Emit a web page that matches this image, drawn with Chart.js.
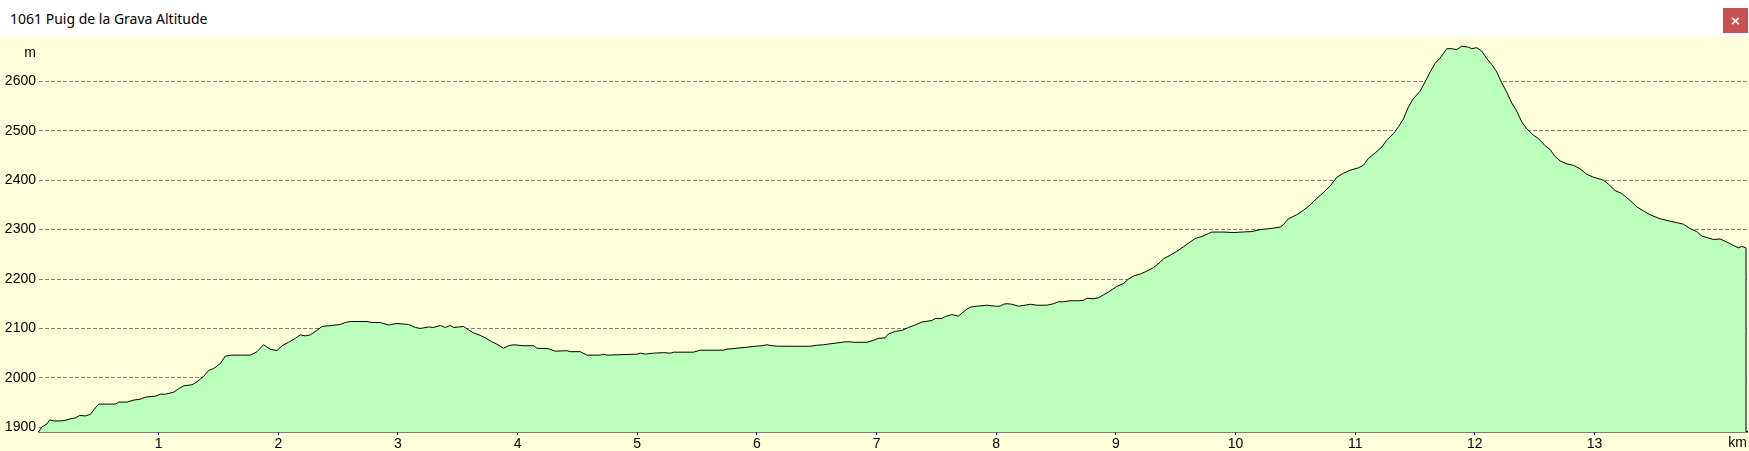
<!DOCTYPE html>
<html>
<head>
<meta charset="utf-8">
<title>1061 Puig de la Grava Altitude</title>
<script src="https://cdn.jsdelivr.net/npm/chart.js@4/dist/chart.umd.min.js"></script>
<style>
  html, body {
    margin: 0;
    padding: 0;
    width: 1749px;
    height: 451px;
    overflow: hidden;
    background: #ffffdc;
  }
  .titlebar {
    position: relative;
    height: 37px;
    background: #ffffff;
  }
  .titlebar .title {
    position: absolute;
    left: 10px;
    top: 9px;
    font: 14px "Noto Sans", "Open Sans", sans-serif;
    color: #000;
  }
  .titlebar .close {
    position: absolute;
    left: 1723px;
    top: 8px;
    width: 25px;
    height: 25px;
    background: #c75050;
    color: #fff;
    font: bold 13px "DejaVu Sans", sans-serif;
    line-height: 25px;
    text-align: center;
  }
  .plot {
    width: 1749px;
    height: 414px;
  }
</style>
</head>
<body>
<div class="titlebar">
  <span class="title">1061 Puig de la Grava Altitude</span>
  <div class="close">×</div>
</div>
<div class="plot"><canvas id="altChart" width="1749" height="414"></canvas></div>

<script>
// Profile data (distance in km, altitude in m)
const distances = [
  0.000, 0.025, 0.067, 0.089, 0.123, 0.192, 0.234, 0.276, 0.304, 0.340,
  0.387, 0.429, 0.457, 0.499, 0.540, 0.638, 0.666, 0.735, 0.791, 0.847,
  0.888, 0.972, 1.014, 1.056, 1.125, 1.167, 1.209, 1.279, 1.320, 1.376,
  1.418, 1.460, 1.515, 1.557, 1.613, 1.682, 1.766, 1.822, 1.877, 1.933,
  1.989, 2.031, 2.086, 2.142, 2.184, 2.226, 2.267, 2.323, 2.365, 2.448,
  2.518, 2.560, 2.602, 2.741, 2.783, 2.852, 2.922, 2.992, 3.089, 3.145,
  3.187, 3.256, 3.298, 3.354, 3.395, 3.437, 3.465, 3.507, 3.549, 3.590,
  3.632, 3.688, 3.730, 3.785, 3.827, 3.883, 3.925, 3.967, 4.050, 4.134,
  4.162, 4.259, 4.315, 4.412, 4.440, 4.524, 4.579, 4.691, 4.718, 4.746,
  4.872, 4.997, 5.025, 5.067, 5.136, 5.220, 5.276, 5.304, 5.471, 5.526,
  5.721, 5.749, 5.833, 5.916, 5.986, 6.042, 6.083, 6.125, 6.181, 6.278,
  6.445, 6.501, 6.557, 6.613, 6.682, 6.738, 6.780, 6.808, 6.919, 6.975,
  7.016, 7.072, 7.100, 7.156, 7.211, 7.267, 7.323, 7.379, 7.462, 7.490,
  7.546, 7.574, 7.629, 7.685, 7.713, 7.755, 7.783, 7.838, 7.922, 7.992,
  8.033, 8.061, 8.089, 8.131, 8.186, 8.242, 8.284, 8.340, 8.423, 8.479,
  8.521, 8.563, 8.618, 8.688, 8.730, 8.757, 8.813, 8.855, 8.897, 8.939,
  9.008, 9.064, 9.106, 9.147, 9.203, 9.259, 9.315, 9.370, 9.398, 9.454,
  9.509, 9.565, 9.621, 9.663, 9.718, 9.774, 9.802, 9.899, 9.983, 10.053,
  10.136, 10.206, 10.289, 10.373, 10.401, 10.443, 10.512, 10.568, 10.624, 10.679,
  10.735, 10.791, 10.847, 10.902, 10.958, 11.028, 11.069, 11.111, 11.167, 11.223,
  11.264, 11.320, 11.362, 11.404, 11.445, 11.487, 11.543, 11.585, 11.627, 11.668,
  11.710, 11.766, 11.807, 11.849, 11.891, 11.947, 11.974, 12.016, 12.058, 12.100,
  12.142, 12.183, 12.225, 12.267, 12.309, 12.350, 12.392, 12.434, 12.490, 12.532,
  12.587, 12.629, 12.671, 12.713, 12.768, 12.824, 12.880, 12.935, 12.991, 13.075,
  13.117, 13.172, 13.228, 13.298, 13.353, 13.409, 13.465, 13.548, 13.632, 13.688,
  13.743, 13.799, 13.855, 13.897, 13.952, 13.994, 14.050, 14.105, 14.161, 14.203,
  14.231, 14.267
];

const altitudes = [
  1892, 1901, 1907, 1915, 1913, 1913, 1915, 1918, 1919, 1924,
  1923, 1926, 1935, 1947, 1947, 1947, 1951, 1951, 1955, 1957,
  1961, 1963, 1967, 1967, 1971, 1978, 1984, 1986, 1992, 2003,
  2015, 2019, 2029, 2044, 2046, 2046, 2046, 2053, 2067, 2058,
  2055, 2065, 2072, 2080, 2087, 2085, 2087, 2096, 2104, 2106,
  2108, 2112, 2114, 2114, 2112, 2112, 2107, 2110, 2108, 2102,
  2100, 2103, 2102, 2106, 2102, 2106, 2102, 2103, 2104, 2097,
  2091, 2086, 2081, 2073, 2068, 2060, 2065, 2067, 2065, 2065,
  2060, 2059, 2054, 2055, 2053, 2053, 2046, 2046, 2048, 2046,
  2047, 2048, 2050, 2048, 2050, 2051, 2050, 2052, 2052, 2056,
  2056, 2058, 2060, 2062, 2064, 2065, 2067, 2065, 2064, 2064,
  2064, 2066, 2067, 2069, 2071, 2073, 2073, 2072, 2072, 2076,
  2080, 2081, 2089, 2094, 2096, 2102, 2107, 2113, 2116, 2120,
  2120, 2124, 2128, 2125, 2131, 2139, 2143, 2145, 2147, 2145,
  2145, 2149, 2150, 2149, 2145, 2147, 2149, 2147, 2147, 2150,
  2154, 2154, 2156, 2156, 2157, 2161, 2160, 2162, 2168, 2174,
  2185, 2191, 2200, 2206, 2210, 2216, 2223, 2234, 2241, 2248,
  2256, 2265, 2275, 2282, 2286, 2292, 2295, 2295, 2294, 2295,
  2296, 2300, 2302, 2305, 2310, 2322, 2330, 2339, 2350, 2363,
  2375, 2388, 2406, 2414, 2420, 2425, 2430, 2444, 2455, 2467,
  2481, 2494, 2508, 2524, 2548, 2565, 2580, 2599, 2619, 2636,
  2647, 2666, 2666, 2664, 2671, 2669, 2666, 2668, 2661, 2646,
  2634, 2619, 2597, 2578, 2556, 2540, 2518, 2504, 2491, 2484,
  2470, 2462, 2448, 2439, 2433, 2430, 2423, 2412, 2406, 2400,
  2392, 2379, 2373, 2359, 2346, 2338, 2330, 2322, 2317, 2314,
  2311, 2302, 2296, 2287, 2283, 2280, 2281, 2275, 2268, 2263,
  2266, 2263
];

// Axis ticks
const kmTicks = [1, 2, 3, 4, 5, 6, 7, 8, 9, 10, 11, 12, 13];
const altTicks = [1900, 2000, 2100, 2200, 2300, 2400, 2500, 2600];

const labelFont = { family: '"Liberation Sans", Arial, sans-serif', size: 14 };

// Draws the unit labels and closes the profile outline at both ends
const profileExtras = {
  id: 'profileExtras',
  afterDatasetsDraw(chart) {
    const { ctx, chartArea } = chart;
    const pts = chart.getDatasetMeta(0).data;
    const first = pts[0];
    const last = pts[pts.length - 1];

    ctx.save();
    ctx.strokeStyle = '#000';
    ctx.lineWidth = 1;
    ctx.beginPath();
    ctx.moveTo(first.x, first.y);
    ctx.lineTo(first.x, chartArea.bottom);
    ctx.moveTo(last.x, last.y);
    ctx.lineTo(last.x, chartArea.bottom);
    ctx.stroke();
    ctx.restore();
  },
  afterDraw(chart) {
    const { ctx, chartArea } = chart;
    ctx.save();
    ctx.fillStyle = '#000';
    ctx.font = '14px "Liberation Sans", Arial, sans-serif';
    ctx.textBaseline = 'middle';
    ctx.textAlign = 'center';
    ctx.fillText('m', 30, 16);
    ctx.textAlign = 'right';
    ctx.fillText('km', chartArea.right, chartArea.bottom + 11);
    ctx.restore();
  }
};

const ctx = document.getElementById('altChart').getContext('2d');

const altChart = new Chart(ctx, {
  type: 'line',
  data: {
    datasets: [{
      data: distances.map((d, i) => ({ x: d, y: altitudes[i] })),
      borderColor: '#000000',
      borderWidth: 1,
      backgroundColor: '#bbffbb',
      fill: 'start',
      pointRadius: 0,
      tension: 0
    }]
  },
  options: {
    responsive: false,
    devicePixelRatio: 1,
    animation: false,
    layout: { padding: { left: 0, right: 2, top: 0, bottom: 0 } },
    plugins: {
      legend: { display: false },
      tooltip: { enabled: false }
    },
    scales: {
      x: {
        type: 'linear',
        min: 0,
        max: 14.275,
        afterBuildTicks: scale => {
          scale.ticks = kmTicks.map(v => ({ value: v }));
        },
        afterFit: scale => {
          scale.height = 19;
          scale.paddingLeft = 0;
          scale.paddingRight = 0;
        },
        ticks: {
          color: '#000',
          font: labelFont,
          padding: 1,
          maxRotation: 0,
          autoSkip: false,
          callback: v => String(v)
        },
        grid: {
          drawOnChartArea: false,
          color: '#0000ff',
          tickLength: 3
        },
        border: { display: true, color: '#000', width: 1.5 }
      },
      y: {
        min: 1890.5,
        max: 2689.6,
        afterBuildTicks: scale => {
          scale.ticks = altTicks.map(v => ({ value: v }));
        },
        afterFit: scale => {
          scale.width = 39;
          scale.paddingTop = 0;
          scale.paddingBottom = 0;
        },
        ticks: {
          color: '#000',
          font: labelFont,
          padding: 3,
          callback: v => String(v)
        },
        grid: {
          color: '#808080',
          lineWidth: 1,
          drawTicks: false
        },
        border: { display: false, dash: [4, 2] }
      }
    }
  },
  plugins: [profileExtras]
});
</script>
</body>
</html>
